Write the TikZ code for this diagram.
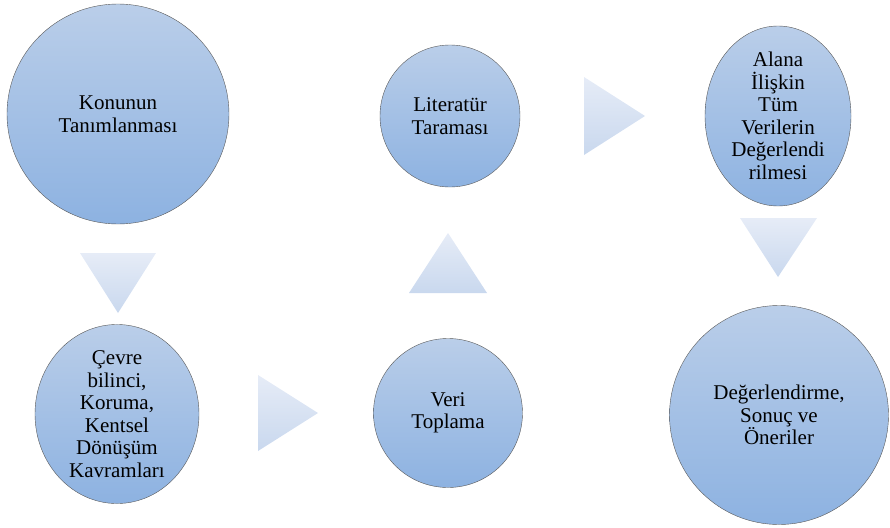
\documentclass[tikz,border=0pt]{standalone}
\usepackage{fontspec}
\setmainfont{Liberation Serif}
\newfontfamily\yazi{Liberation Serif}
\usetikzlibrary{shapes.geometric}

\definecolor{daireust}{HTML}{BACEE9}
\definecolor{dairealt}{HTML}{8DB2E1}
\definecolor{okust}{HTML}{E6ECF7}
\definecolor{okalt}{HTML}{C9D8EE}

\tikzset{
	daire/.style={ellipse,draw=black!65,thin,top color=daireust,bottom color=dairealt,
		align=center,inner sep=0pt,font=\yazi\fontsize{21}{22.5}\selectfont},
	ok/.style={top color=okust,bottom color=okalt}
}

\begin{document}
\begin{tikzpicture}[x=1pt,y=-1pt]
			\useasboundingbox (0,0) rectangle (890,527);
			% daireler
			\node[daire,minimum width=222,minimum height=220] (konu) at (118,114) {Konunun\\Tanımlanması};
			\node[daire,minimum width=164,minimum height=150] (kavram) at (117,414) {Çevre\\bilinci,\\Koruma,\\Kentsel\\Dönüşüm\\Kavramları};
			\node[daire,minimum width=149,minimum height=149] (veri) at (448,413) {Veri\\Toplama};
			\node[daire,minimum width=140,minimum height=142] (literatur) at (450,116) {Literatür\\Taraması};
			\node[daire,minimum width=146,minimum height=146] (alan) at (778,116) {Alana\\İlişkin\\Tüm\\Verilerin\\Değerlendi\\rilmesi};
			\node[daire,minimum width=219,minimum height=219] (sonuc) at (779,415) {Değerlendirme,\\Sonuç ve\\Öneriler};
			% oklar
			\shade[ok] (80,253)--(156,253)--(118,313)--cycle;
			\shade[ok] (258,375)--(318,413)--(258,451)--cycle;
			\shade[ok] (448,233)--(487,293)--(409,293)--cycle;
			\shade[ok] (584,77)--(645,116)--(584,155)--cycle;
			\shade[ok] (740,218)--(817,218)--(778,277)--cycle;
		\end{tikzpicture}
\end{document}
